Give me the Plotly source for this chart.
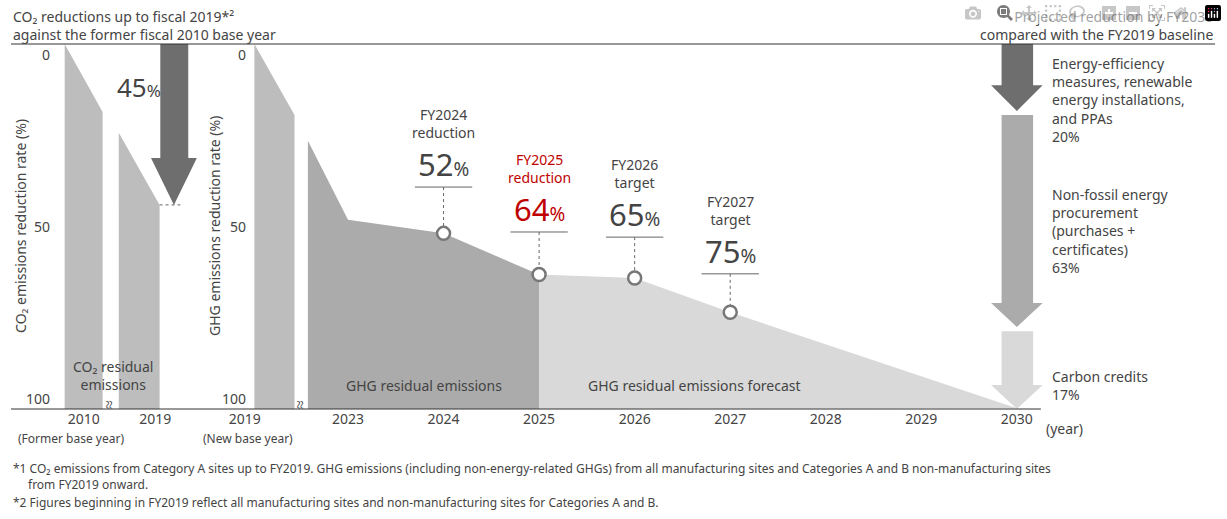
import plotly.graph_objects as go

# ---------------- data ----------------
left_years = ["2010", "2019"]
left_pos = [0, 1]
left_top_2010 = [-3.2, 16.6]      # top edge of 2010 bar (left, right)
left_top_2019 = [22.7, 43.7]      # top edge of 2019 bar (left, right)
left_reduction = 45

right_years = ["2019", "2023", "2024", "2025", "2026", "2027", "2028", "2029", "2030"]
right_pos = [2021.92, 2023, 2024, 2025, 2026, 2027, 2028, 2029, 2030]
bar2019_top = [-3.2, 17.5]
actual_x = [2022.58, 2023, 2024, 2025]
actual_y = [25, 48, 52, 64]
forecast_x = [2025, 2026, 2027, 2030]
forecast_y = [64, 65, 75, 103]

marker_x = [2024, 2025, 2026, 2027]
marker_y = [52, 64, 65, 75]
marker_head = ["FY2024<br>reduction", "FY2025<br>reduction", "FY2026<br>target", "FY2027<br>target"]
marker_val = ["52", "64", "65", "75"]
marker_col = ["#444444", "#c00000", "#444444", "#444444"]

breakdown = [20, 63, 17]
breakdown_txt = ["Energy-efficiency<br>measures, renewable<br>energy installations,<br>and PPAs<br>20%",
                 "Non-fossil energy<br>procurement<br>(purchases +<br>certificates)<br>63%",
                 "Carbon credits<br>17%"]

W, H = 1227, 519
FONT = "Noto Sans"
TXT = "#444444"
BASE = 103.2


def px(x):
    return x / W


def py(y):
    return 1 - y / H


fig = go.Figure()

# ---------------- left panel ----------------
w = 0.265
fig.add_trace(go.Scatter(x=[left_pos[0] - w, left_pos[0] + w, left_pos[0] + w, left_pos[0] - w],
                         y=[left_top_2010[0], left_top_2010[1], BASE, BASE], fill="toself",
                         fillcolor="#bdbdbd", line=dict(width=0), mode="lines",
                         xaxis="x", yaxis="y", hoverinfo="skip"))
fig.add_trace(go.Scatter(x=[left_pos[1] - 0.51, left_pos[1] + 0.06, left_pos[1] + 0.06, left_pos[1] - 0.51],
                         y=[left_top_2019[0], left_top_2019[1], BASE, BASE], fill="toself",
                         fillcolor="#bdbdbd", line=dict(width=0), mode="lines",
                         xaxis="x", yaxis="y", hoverinfo="skip"))
# dashed line at 2019 level
fig.add_trace(go.Scatter(x=[1.06, 1.35], y=[left_top_2019[1]] * 2, mode="lines",
                         line=dict(color="#666", width=1, dash="dot"), xaxis="x", yaxis="y"))
# dark arrow
ax0, ax1, hx0, hx1, hy = 1.07, 1.46, 0.94, 1.58, 30
fig.add_trace(go.Scatter(x=[ax0, ax1, ax1, hx1, (hx0 + hx1) / 2, hx0, ax0, ax0],
                         y=[-3.2, -3.2, hy, hy, left_top_2019[1], hy, hy, -3.2],
                         fill="toself", fillcolor="#6e6e6e", line=dict(width=0), mode="lines",
                         xaxis="x", yaxis="y", hoverinfo="skip"))

# ---------------- right panel ----------------
fig.add_trace(go.Scatter(x=[2022.02, 2022.44, 2022.44, 2022.02],
                         y=[bar2019_top[0], bar2019_top[1], BASE, BASE], fill="toself",
                         fillcolor="#bdbdbd", line=dict(width=0), mode="lines",
                         xaxis="x2", yaxis="y2", hoverinfo="skip"))
fig.add_trace(go.Scatter(x=actual_x + [actual_x[-1], actual_x[0]],
                         y=actual_y + [BASE, BASE], fill="toself", fillcolor="#ababab",
                         line=dict(width=0), mode="lines", xaxis="x2", yaxis="y2", hoverinfo="skip"))
fig.add_trace(go.Scatter(x=forecast_x + [forecast_x[0]],
                         y=forecast_y + [BASE], fill="toself", fillcolor="#d9d9d9",
                         line=dict(width=0), mode="lines", xaxis="x2", yaxis="y2", hoverinfo="skip"))

# dashed leaders + underlines + labels
under_y = [38.5, 51.6, 53.1, 63.8]
for mx, my, uy, head, val, col in zip(marker_x, marker_y, under_y, marker_head, marker_val, marker_col):
    fig.add_trace(go.Scatter(x=[mx, mx], y=[uy, my], mode="lines",
                             line=dict(color="#666", width=1, dash="dot"), xaxis="x2", yaxis="y2"))
    fig.add_trace(go.Scatter(x=[mx - 0.3, mx + 0.3], y=[uy, uy], mode="lines",
                             line=dict(color="#666", width=1), xaxis="x2", yaxis="y2"))
    fig.add_annotation(x=mx, y=uy, xref="x2", yref="y2", yanchor="bottom", yshift=0,
                       text=f"<span style='font-size:31px'>{val}</span><span style='font-size:19px'>%</span>",
                       showarrow=False, font=dict(family=FONT, color=col))
    fig.add_annotation(x=mx, y=uy, xref="x2", yref="y2", yanchor="bottom", yshift=43,
                       text=head, showarrow=False,
                       font=dict(family=FONT, size=14, color="#c00000" if col == "#c00000" else TXT))
fig.add_trace(go.Scatter(x=marker_x, y=marker_y, mode="markers",
                         marker=dict(size=13, color="white", line=dict(color="#777", width=2.5)),
                         xaxis="x2", yaxis="y2"))

# breakdown arrows at 2030
cum = [-3.2]
for b in breakdown:
    cum.append(cum[-1] + b)
cum[-1] = BASE
arrow_cols = ["#6e6e6e", "#ababab", "#d9d9d9"]
head_len = [7.5, 7, 7]
for i in range(3):
    top = cum[i] + (0 if i == 0 else 0.7)
    tip = cum[i + 1] - (0.5 if i < 2 else 0)
    hs = tip - head_len[i]
    fig.add_trace(go.Scatter(x=[2029.84, 2030.17, 2030.17, 2030.27, 2030.0, 2029.73, 2029.84, 2029.84],
                             y=[top, top, hs, hs, tip, hs, hs, top], fill="toself",
                             fillcolor=arrow_cols[i], line=dict(width=0), mode="lines",
                             xaxis="x2", yaxis="y2", hoverinfo="skip"))
label_top = [52, 183, 365]
for t, yy in zip(breakdown_txt, label_top):
    fig.add_annotation(x=px(1049), y=py(yy), xref="paper", yref="paper", xanchor="left", yanchor="top",
                       align="left", text=t, showarrow=False, font=dict(family=FONT, size=14, color=TXT))

# ---------------- axes ----------------
yr = [BASE, -3.2]
ydom = [py(409), py(44)]
fig.update_layout(
    xaxis=dict(domain=[px(20), px(200)], range=[-0.806, 1.694], tickvals=left_pos, ticktext=left_years,
               showgrid=False, zeroline=False, showline=False, ticks="",
               tickfont=dict(family=FONT, size=14, color=TXT)),
    yaxis=dict(domain=ydom, range=yr, visible=False),
    xaxis2=dict(domain=[px(230), px(1048)], range=[2021.816, 2030.335], tickvals=right_pos,
                ticktext=right_years, showgrid=False, zeroline=False, showline=False, ticks="",
                tickfont=dict(family=FONT, size=14, color=TXT)),
    yaxis2=dict(domain=ydom, range=yr, anchor="x2", visible=False),
)

for v in [0, 50, 100]:
    fig.add_annotation(x=px(46), y=v, xref="paper", yref="y", xanchor="right", text=str(v),
                       showarrow=False, font=dict(family=FONT, size=14, color=TXT))
    fig.add_annotation(x=px(243), y=v, xref="paper", yref="y2", xanchor="right", text=str(v),
                       showarrow=False, font=dict(family=FONT, size=14, color=TXT))

# frame lines
fig.add_shape(type="line", xref="paper", yref="paper", x0=px(5), x1=px(1215), y0=py(44), y1=py(44),
              line=dict(color="#333", width=1))
fig.add_shape(type="line", xref="paper", yref="paper", x0=px(5), x1=px(1040), y0=py(409), y1=py(409),
              line=dict(color="#333", width=1))

texts = [
    (5, 5, "left", "top", "CO₂ reductions up to fiscal 2019*²<br>against the former fiscal 2010 base year", 14, 0),
    (1215, 5, "right", "top", "Projected reduction by FY2030<br>compared with the FY2019 baseline", 14, 0),
    (108, 375, "center", "middle", "CO₂ residual<br>emissions", 14, 0),
    (420, 385, "center", "middle", "GHG residual emissions", 14, 0),
    (692, 385, "center", "middle", "GHG residual emissions forecast", 14, 0),
    (65, 438, "center", "middle", "(Former base year)", 12, 0),
    (243, 438, "center", "middle", "(New base year)", 12, 0),
    (1043, 428, "left", "middle", "(year)", 14, 0),
    (15, 226, "center", "middle", "CO₂ emissions reduction rate (%)", 14, -90),
    (210, 226, "center", "middle", "GHG emissions reduction rate (%)", 14, -90),
    (105, 405, "center", "middle", "≈", 16, 90),
    (296, 405, "center", "middle", "≈", 16, 90),
    (5, 468, "left", "middle", "*1 CO₂ emissions from Category A sites up to FY2019. GHG emissions (including non-energy-related GHGs) from all manufacturing sites and Categories A and B non-manufacturing sites", 12, 0),
    (20, 484, "left", "middle", "from FY2019 onward.", 12, 0),
    (5, 502, "left", "middle", "*2 Figures beginning in FY2019 reflect all manufacturing sites and non-manufacturing sites for Categories A and B.", 12, 0),
]
for x, y, xa, ya, t, s, ang in texts:
    fig.add_annotation(x=px(x), y=py(y), xref="paper", yref="paper", xanchor=xa, yanchor=ya, align=xa if xa != "middle" else "center",
                       text=t, showarrow=False, textangle=ang, font=dict(family=FONT, size=s, color=TXT))

fig.add_annotation(x=px(110), y=py(67), xref="paper", yref="paper", text=
                   f"<span style='font-size:26px'>{left_reduction}</span><span style='font-size:17px'>%</span>",
                   showarrow=False, font=dict(family=FONT, color=TXT))

fig.update_layout(width=W, height=H, margin=dict(l=0, r=0, t=0, b=0), showlegend=False,
                  plot_bgcolor="white", paper_bgcolor="white")

# drop the default body margin so the figure fills the window exactly
fig.write_html("out.html", post_script="document.body.style.margin='0';")
